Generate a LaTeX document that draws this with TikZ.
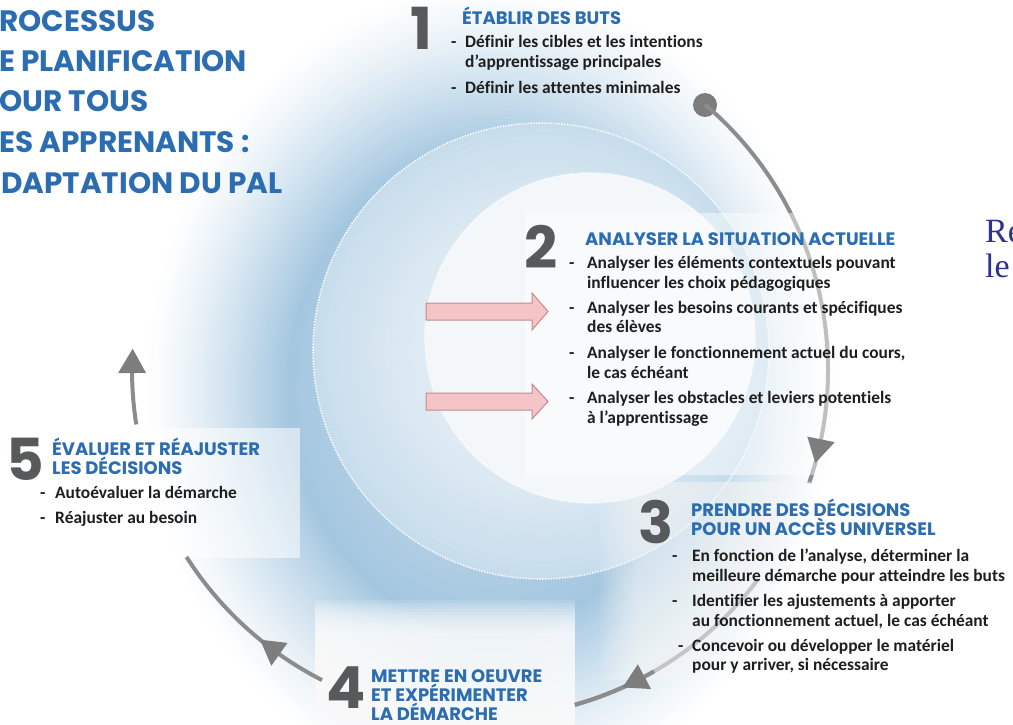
\documentclass[tikz,border=0pt]{standalone}
\usepackage{fontspec}
\setmainfont{Carlito}
\newfontfamily\hfont{Poppins}
\newfontfamily\bfontf{Carlito}[Ligatures=NoCommon]
\newfontfamily\serf{Liberation Serif}
\usetikzlibrary{calc}
\definecolor{headblue}{RGB}{44,108,176}
\definecolor{bodyc}{RGB}{30,30,30}
\definecolor{numc}{RGB}{88,89,91}
\definecolor{linec}{RGB}{140,140,140}
\definecolor{arrc}{RGB}{125,125,125}
\definecolor{pinkf}{RGB}{244,196,199}
\definecolor{pinkd}{RGB}{196,138,143}
\definecolor{reblue}{RGB}{46,49,146}
\definecolor{g2}{RGB}{164,199,224}
\definecolor{m0}{RGB}{236,243,249}
\definecolor{m2}{RGB}{200,221,236}
\definecolor{innerc}{RGB}{243,247,250}
\newcommand\cyctip[1]{\fill[arrc] ($(cc)+(#1:348)$) -- ($(cc)+(#1-4:334)$) -- ($(cc)+(#1-4:362)$) -- cycle;}
\begin{document}
\begin{tikzpicture}[x=1pt,y=-1pt,
  ttl/.style={font=\hfont\bfseries\fontsize{29.5}{32}\selectfont, text=headblue, anchor=base west, inner sep=0, text height=22pt, text depth=2pt},
  head/.style={font=\hfont\bfseries\fontsize{18}{20}\selectfont, text=headblue, anchor=base west, inner sep=0, text height=14pt, text depth=2pt},
  body/.style={font=\bfontf\bfseries\fontsize{17.4}{20}\selectfont, text=bodyc, anchor=base west, inner sep=0, text height=12.5pt, text depth=3.5pt},
  num/.style={font=\hfont\bfseries\fontsize{58}{60}\selectfont, text=numc, anchor=base west, inner sep=0, text height=42pt, text depth=0pt},
  cyc/.style={draw=linec, line width=4pt},
  pinkarrow/.style={fill=pinkf, draw=pinkd, line width=1pt},
  serr/.style={draw=white, line width=1.6pt, dash pattern=on 1.4pt off 1.4pt, opacity=0.9},
  veil/.style={fill=white}]
\useasboundingbox (0,0) rectangle (1013,725);
\clip (0,0) rectangle (1013,725);
\fill[white] (0,0) rectangle (1013,725);
% background glow (concentric elliptical rings)
\coordinate (gc) at (490,390);
\foreach \r in {408,404,...,150}{
  \pgfmathsetmacro\p{ifthenelse(\r>239.5, 100*pow((410-\r)/170,1.3), 100-(240-\r)*0.2)}
  \fill[g2!\p!white] (gc) ellipse[x radius=0.85*\r, y radius=\r];
}
% middle circle
\coordinate (mc) at (541,351);
\foreach \r in {228,222,...,6}{
  \pgfmathsetmacro\q{100*pow(\r/228,1.6)}
  \fill[m2!\q!m0] (mc) circle[radius=\r];
}
\draw[serr] (mc) circle[radius=228];
% inner circle
\fill[innerc] (590,338) circle[radius=165];
\draw[serr] (590,338) circle[radius=165];
% cycle
\coordinate (cc) at (480,370);
\node[circle, fill=arrc, minimum size=24pt, inner sep=0] (dot) at (705,105) {};
\draw[cyc] (cc) ++(-49.7:348) arc[start angle=-49.7, end angle=19, radius=348];
\draw[cyc] (cc) ++(37:348) arc[start angle=37, end angle=74.2, radius=348];
% veils behind text blocks (soft edges)
\fill[veil, opacity=0.45] (525,213) rectangle (965,475);
\foreach \k in {0,...,9}{\fill[veil, opacity=0.07] (600+4*\k,482) rectangle (1013,680);}
\foreach \k in {0,...,11}{\fill[veil, opacity=0.14] (315,600+3*\k) rectangle (575,725);}
\fill[veil, opacity=0.55] (0,428) rectangle (300,558);
\draw[cyc] (cc) ++(60:348) arc[start angle=60, end angle=74.2, radius=348];
\draw[cyc] (cc) ++(117:348) arc[start angle=117, end angle=147.5, radius=348];
\draw[cyc] (cc) ++(171:348) arc[start angle=171, end angle=180.5, radius=348];
\cyctip{15.5}
\cyctip{65.8}
\cyctip{129.2}
\cyctip{183.5}
% pink arrows
\draw[pinkarrow] (426,303) -- (532,303) -- (532,293) -- (548,311.5) -- (532,330) -- (532,320) -- (426,320) -- cycle;
\draw[pinkarrow] (426,393) -- (532,393) -- (532,384) -- (548,401.5) -- (532,419) -- (532,410) -- (426,410) -- cycle;
% title
\node[ttl] (t1) at (-1,32) {ROCESSUS};
\node[ttl] (t2) at (-1,72) {E PLANIFICATION};
\node[ttl] (t3) at (-1,112) {OUR TOUS};
\node[ttl] (t4) at (-1,152) {ES APPRENANTS :};
\node[ttl] (t5) at (1,193) {DAPTATION DU PAL};
% block 1
\node[num] (n1) at (410,50) {1};
\node[head] (h1) at (462,25) {ÉTABLIR DES BUTS};
\node[body] (b1a) at (451,48) {\makebox[14pt][l]{-}Définir les cibles et les intentions};
\node[body] (b1b) at (465,68) {d’apprentissage principales};
\node[body] (b1c) at (451,93) {\makebox[14pt][l]{-}Définir les attentes minimales};
% block 2
\node[num] (n2) at (524,268) {2};
\node[head] (h2) at (585,245) {ANALYSER LA SITUATION ACTUELLE};
\node[body] (b2a) at (569,268) {\makebox[18pt][l]{-}Analyser les éléments contextuels pouvant};
\node[body] (b2b) at (587,288) {influencer les choix pédagogiques};
\node[body] (b2c) at (569,313) {\makebox[18pt][l]{-}Analyser les besoins courants et spécifiques};
\node[body] (b2d) at (587,332) {des élèves};
\node[body] (b2e) at (569,358) {\makebox[18pt][l]{-}Analyser le fonctionnement actuel du cours,};
\node[body] (b2f) at (587,378) {le cas échéant};
\node[body] (b2g) at (569,403) {\makebox[18pt][l]{-}Analyser les obstacles et leviers potentiels};
\node[body] (b2h) at (587,423) {à l’apprentissage};
% block 3
\node[num] (n3) at (638,543) {3};
\node[head] (h3a) at (691,516) {PRENDRE DES DÉCISIONS};
\node[head] (h3b) at (691,535) {POUR UN ACCÈS UNIVERSEL};
\node[body] (b3a) at (672,561) {\makebox[20pt][l]{-}En fonction de l’analyse, déterminer la};
\node[body] (b3b) at (692,581) {meilleure démarche pour atteindre les buts};
\node[body] (b3c) at (672,606) {\makebox[20pt][l]{-}Identifier les ajustements à apporter};
\node[body] (b3d) at (692,626) {au fonctionnement actuel, le cas échéant};
\node[body] (b3e) at (678,651) {\makebox[14pt][l]{-}Concevoir ou développer le matériel};
\node[body] (b3f) at (692,670) {pour y arriver, si nécessaire};
% block 4
\node[num] (n4) at (326,708) {4};
\node[head] (h4a) at (371,682) {METTRE EN OEUVRE};
\node[head] (h4b) at (371,701) {ET EXPÉRIMENTER};
\node[head] (h4c) at (371,720) {LA DÉMARCHE};
% block 5
\node[num] (n5) at (6,480) {5};
\node[head] (h5a) at (52,455) {ÉVALUER ET RÉAJUSTER};
\node[head] (h5b) at (52,474) {LES DÉCISIONS};
\node[body] (b5a) at (40,498) {\makebox[15pt][l]{-}Autoévaluer la démarche};
\node[body] (b5b) at (40,523) {\makebox[15pt][l]{-}Réajuster au besoin};
% cut text at right edge
\node[font=\serf\fontsize{34}{36}\selectfont, text=reblue, anchor=base west, inner sep=0] (re1) at (985,242) {Re};
\node[font=\serf\fontsize{34}{36}\selectfont, text=reblue, anchor=base west, inner sep=0] (re2) at (985,277) {le};
\end{tikzpicture}
\end{document}
